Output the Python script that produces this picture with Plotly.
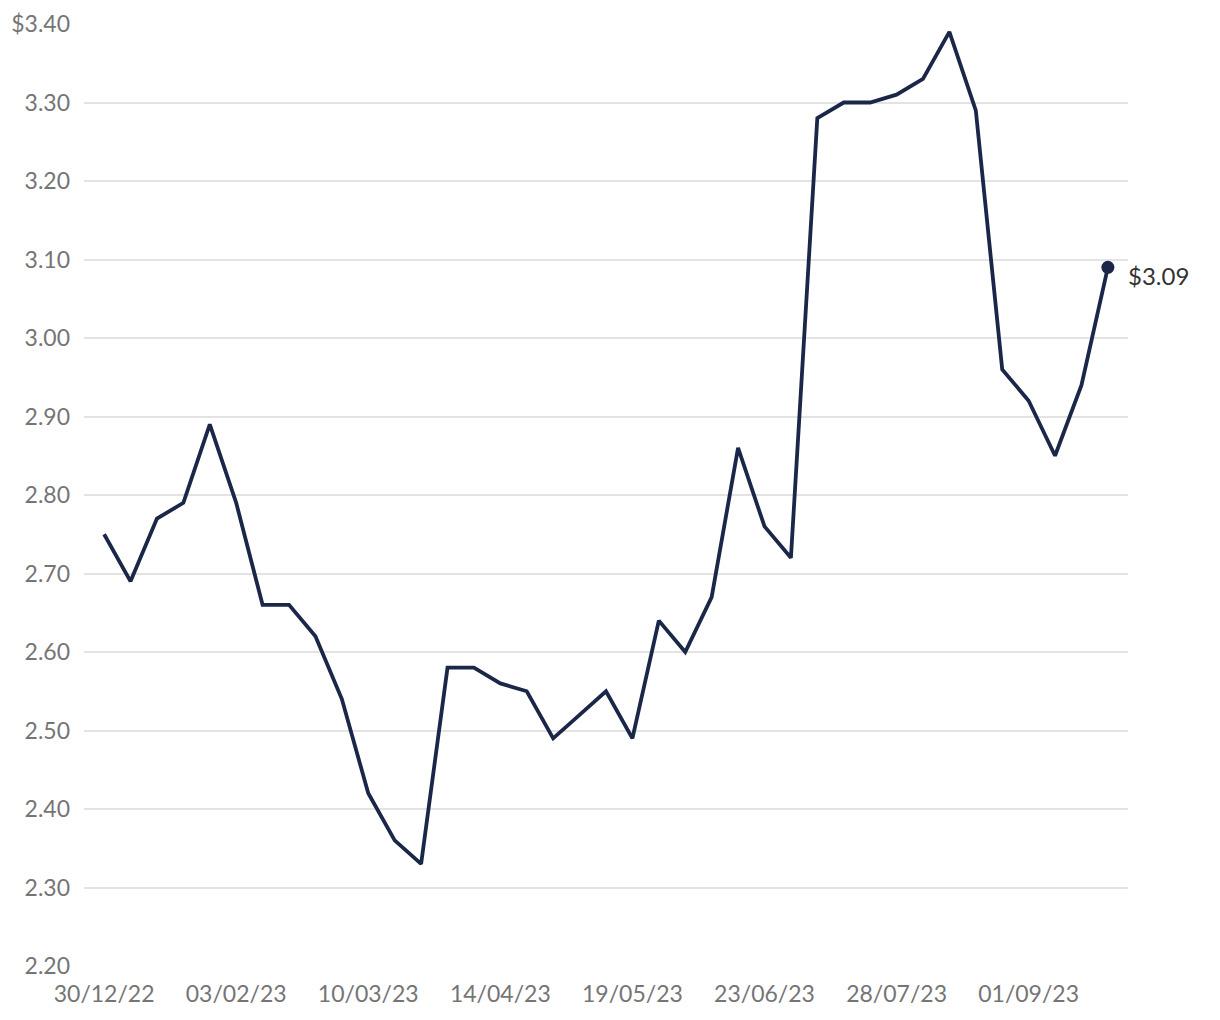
import plotly.graph_objects as go
import pandas as pd

dates = pd.date_range("2022-12-30", periods=39, freq="7D")
prices = [2.75, 2.69, 2.77, 2.79, 2.89, 2.79, 2.66, 2.66, 2.62, 2.54,
          2.42, 2.36, 2.33, 2.58, 2.58, 2.56, 2.55, 2.49, 2.52, 2.55,
          2.49, 2.64, 2.60, 2.67, 2.86, 2.76, 2.72, 3.28, 3.30, 3.30,
          3.31, 3.33, 3.39, 3.29, 2.96, 2.92, 2.85, 2.94, 3.09]

y_ticks = [2.2, 2.3, 2.4, 2.5, 2.6, 2.7, 2.8, 2.9, 3.0, 3.1, 3.2, 3.3, 3.4]
y_labels = ["2.20", "2.30", "2.40", "2.50", "2.60", "2.70", "2.80", "2.90",
            "3.00", "3.10", "3.20", "3.30", "$3.40"]
x_ticks = ["2022-12-30", "2023-02-03", "2023-03-10", "2023-04-14",
           "2023-05-19", "2023-06-23", "2023-07-28", "2023-09-01"]
x_labels = ["30/12/22", "03/02/23", "10/03/23", "14/04/23",
            "19/05/23", "23/06/23", "28/07/23", "01/09/23"]

line_color = "#1b2748"
fig = go.Figure()
fig.add_trace(go.Scatter(x=dates, y=prices, mode="lines",
                         line=dict(color=line_color, width=3.8),
                         hoverinfo="x+y", showlegend=False, cliponaxis=False))
fig.add_trace(go.Scatter(x=[dates[-1]], y=[prices[-1]], mode="markers",
                         marker=dict(color=line_color, size=13),
                         showlegend=False, cliponaxis=False))
fig.add_annotation(x=dates[-1], y=prices[-1], text=f"${prices[-1]:.2f}",
                   showarrow=False, xanchor="left", yanchor="middle",
                   xshift=18, yshift=-8,
                   font=dict(family="Lato", size=24, color="#333333"))

fig.update_layout(
    width=1220, height=1020,
    margin=dict(l=76, r=100, t=16, b=62),
    plot_bgcolor="white", paper_bgcolor="white",
    font=dict(family="Lato", size=23, color="#757575"),
    xaxis=dict(range=["2022-12-24 16:00", "2023-09-27 08:00"],
               tickvals=x_ticks, ticktext=x_labels, showgrid=False,
               zeroline=False, showline=False, ticks="", ticklabelstandoff=12,
               automargin=False),
    yaxis=dict(range=[2.2, 3.4], tickvals=y_ticks, ticktext=y_labels,
               showgrid=True, gridcolor="#e3e3e3", gridwidth=1.5,
               zeroline=False, showline=False, ticks="", ticklabelstandoff=13,
               automargin=False),
)
fig.write_html("out.html")
